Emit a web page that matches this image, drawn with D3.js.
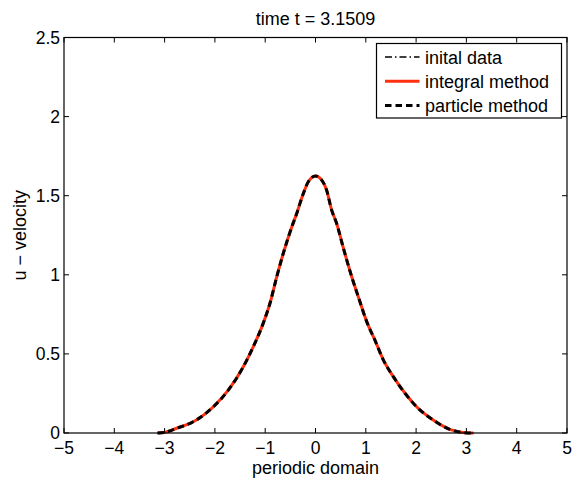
<!DOCTYPE html>
<html>
<head>
<meta charset="utf-8">
<script src="https://cdn.jsdelivr.net/npm/d3@7"></script>
<style>
body { margin: 0; background: #fff; }
svg { display: block; font-family: "Liberation Sans", Arial, Helvetica, sans-serif; }
</style>
</head>
<body>
<svg></svg>
<script>
// values
const domainX = [-3.14, -3.0, -2.76, -2.43, -2.03, -1.73, -1.435, -1.236, -1.04, -0.905, -0.77, -0.64, -0.47, -0.37, -0.31, -0.24, -0.14, 0, 0.12, 0.22, 0.32, 0.42, 0.553, 0.72, 0.85, 1.018, 1.18, 1.35, 1.547, 1.78, 2.01, 2.34, 2.67, 2.97, 3.14];
const initialData = [0, 0.004, 0.03, 0.071, 0.166, 0.272, 0.419, 0.546, 0.693, 0.82, 0.988, 1.136, 1.304, 1.39, 1.45, 1.515, 1.59, 1.624, 1.6, 1.536, 1.41, 1.325, 1.17, 0.988, 0.862, 0.704, 0.588, 0.461, 0.356, 0.251, 0.166, 0.082, 0.023, 0.002, 0];
const integralMethod = [0, 0.004, 0.03, 0.071, 0.166, 0.272, 0.419, 0.546, 0.693, 0.82, 0.988, 1.136, 1.304, 1.39, 1.45, 1.515, 1.59, 1.624, 1.6, 1.536, 1.41, 1.325, 1.17, 0.988, 0.862, 0.704, 0.588, 0.461, 0.356, 0.251, 0.166, 0.082, 0.023, 0.002, 0];
const particleMethod = [0, 0.004, 0.03, 0.071, 0.166, 0.272, 0.419, 0.546, 0.693, 0.82, 0.988, 1.136, 1.304, 1.39, 1.45, 1.515, 1.59, 1.624, 1.6, 1.536, 1.41, 1.325, 1.17, 0.988, 0.862, 0.704, 0.588, 0.461, 0.356, 0.251, 0.166, 0.082, 0.023, 0.002, 0];
const xTicks = [-5, -4, -3, -2, -1, 0, 1, 2, 3, 4, 5];
const yTicks = [0, 0.5, 1, 1.5, 2, 2.5];
const legendLabels = ['inital data', 'integral method', 'particle method'];

const width = 576;
const height = 478;
const plotLeft = 64;
const plotRight = 567;
const plotTop = 37.5;
const plotBottom = 433;
const tickLen = 5;
const fontSize = 18;
const tickFont = 17.5;
const red = '#ff3010';

var svg;
var x;
var y;

// matlab uses a real minus sign
function fmt(v){
	return (v < 0 ? '\u2212' : '') + Math.abs(v);
}

function drawAxes(){
	var g = svg.append('g');

	// box
	g.append('rect')
	.attr('x', plotLeft).attr('y', plotTop)
	.attr('width', plotRight-plotLeft).attr('height', plotBottom-plotTop)
	.style('fill', 'none').style('stroke', 'black').style('stroke-width', 1.2);

	// ticks on all four sides, pointing in
	g.selectAll('line.xb').data(xTicks).enter().append('line')
	.attr('x1', d => x(d)).attr('x2', d => x(d))
	.attr('y1', plotBottom).attr('y2', plotBottom-tickLen)
	.style('stroke', 'black');
	g.selectAll('line.xt').data(xTicks).enter().append('line')
	.attr('x1', d => x(d)).attr('x2', d => x(d))
	.attr('y1', plotTop).attr('y2', plotTop+tickLen)
	.style('stroke', 'black');

	g.selectAll('line.yl').data(yTicks).enter().append('line')
	.attr('x1', plotLeft).attr('x2', plotLeft+tickLen)
	.attr('y1', d => y(d)).attr('y2', d => y(d))
	.style('stroke', 'black');
	g.selectAll('line.yr').data(yTicks).enter().append('line')
	.attr('x1', plotRight).attr('x2', plotRight-tickLen)
	.attr('y1', d => y(d)).attr('y2', d => y(d))
	.style('stroke', 'black');

	g.selectAll('text.xt').data(xTicks).enter().append('text')
	.attr('x', d => x(d)).attr('y', 454)
	.attr('text-anchor', 'middle')
	.style('font-size', tickFont)
	.text(fmt);

	g.selectAll('text.yt').data(yTicks).enter().append('text')
	.attr('x', plotLeft-4).attr('y', d => y(d)+6)
	.attr('text-anchor', 'end')
	.style('font-size', tickFont)
	.text(fmt);

	// labels
	svg.append('text')
	.attr('x', (plotLeft+plotRight)/2).attr('y', 25)
	.attr('text-anchor', 'middle')
	.style('font-size', fontSize)
	.text('time t = 3.1509');
	svg.append('text')
	.attr('x', (plotLeft+plotRight)/2).attr('y', 473.5)
	.attr('text-anchor', 'middle')
	.style('font-size', fontSize)
	.text('periodic domain');
	svg.append('text')
	.attr('transform', 'translate(26,'+((plotTop+plotBottom)/2)+') rotate(-90)')
	.attr('text-anchor', 'middle')
	.style('font-size', fontSize)
	.text('u \u2212 velocity');
}

function drawLines(){
	var line = d3.line()
	.x(d => x(d[0])).y(d => y(d[1]))
	.curve(d3.curveMonotoneX);

	var series = [
		{vals: initialData, stroke: 'black', w: 1.5, dash: '7,3,1.5,3'},
		{vals: integralMethod, stroke: red, w: 3, dash: null},
		{vals: particleMethod, stroke: 'black', w: 3, dash: '6.5,4'}
	];
	series.forEach(s => {
		svg.append('path')
		.attr('d', line(domainX.map((v,i) => [v, s.vals[i]])))
		.style('fill', 'none')
		.style('stroke', s.stroke)
		.style('stroke-width', s.w)
		.style('stroke-dasharray', s.dash);
	});
	return series;
}

function drawLegend(series){
	var lg = svg.append('g').attr('transform', 'translate(376.5,43.5)');
	lg.append('rect')
	.attr('width', 185).attr('height', 74.5)
	.style('fill', 'white').style('stroke', 'black').style('stroke-width', 1.2);

	var rows = lg.selectAll('g.row').data(series).enter().append('g')
	.attr('transform', (d,i) => 'translate(0,'+(13.5+i*24.3)+')');
	rows.append('line')
	.attr('x1', 8.5).attr('x2', 43)
	.attr('y1', 0).attr('y2', 0)
	.style('stroke', d => d.stroke)
	.style('stroke-width', d => d.w)
	.style('stroke-dasharray', d => d.dash);
	rows.append('text')
	.attr('x', 48.5).attr('y', 6.5)
	.style('font-size', fontSize)
	.text((d,i) => legendLabels[i]);
}

function init(){
	svg = d3.select('svg').attr('width', width).attr('height', height);
	x = d3.scaleLinear().domain([-5, 5]).range([plotLeft, plotRight]);
	y = d3.scaleLinear().domain([0, 2.5]).range([plotBottom, plotTop]);

	var series = drawLines();
	drawAxes();
	drawLegend(series);
}

init();
</script>
</body>
</html>
